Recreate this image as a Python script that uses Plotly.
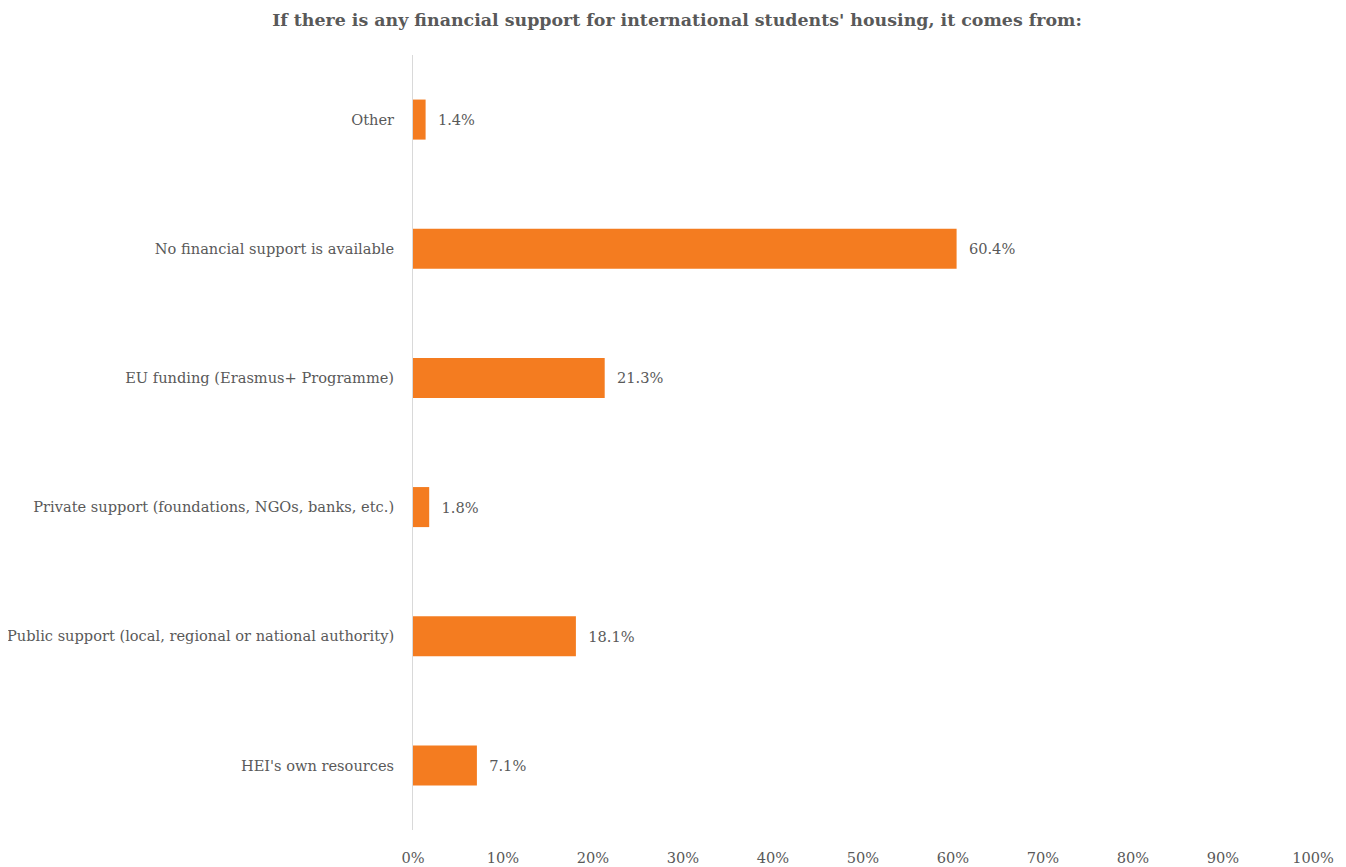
import plotly.graph_objects as go

categories = [
    "HEI's own resources",
    "Public support (local, regional or national authority)",
    "Private support (foundations, NGOs, banks, etc.)",
    "EU funding (Erasmus+ Programme)",
    "No financial support is available",
    "Other",
]
values = [7.1, 18.1, 1.8, 21.3, 60.4, 1.4]
tick_vals = [0, 10, 20, 30, 40, 50, 60, 70, 80, 90, 100]
tick_text = [f"{v}%" for v in tick_vals]

FONT = "DejaVu Serif"
GREY = "#595959"

fig = go.Figure(
    go.Bar(
        x=values,
        y=categories,
        orientation="h",
        marker=dict(color="#F47C20", line=dict(width=0)),
        width=0.31,
        text=[f"  {v:.1f}%" for v in values],
        textposition="outside",
        textfont=dict(family=FONT, size=14.6, color=GREY),
        cliponaxis=False,
        hoverinfo="skip",
    )
)

# page body has an 8px margin, so the figure is 8px smaller on each axis
fig.update_layout(
    width=1338,
    height=859,
    paper_bgcolor="white",
    plot_bgcolor="white",
    margin=dict(l=405, r=33, t=47, b=37, autoexpand=False),
    title=dict(
        text="<b>If there is any financial support for international students' housing, it comes from:</b>",
        x=0.5,
        xanchor="center",
        y=0.986,
        yanchor="middle",
        font=dict(family=FONT, size=17.4, color=GREY),
    ),
    showlegend=False,
    font=dict(family=FONT, color=GREY, size=14.6),
)

fig.update_xaxes(
    range=[0, 100],
    tickvals=tick_vals,
    ticktext=tick_text,
    showgrid=False,
    zeroline=False,
    showline=False,
    ticks="",
    automargin=False,
    ticklabelstandoff=17,
    tickfont=dict(family=FONT, size=14.6, color=GREY),
)
fig.update_yaxes(
    categoryorder="array",
    categoryarray=categories,
    showgrid=False,
    zeroline=False,
    showline=True,
    linecolor="#d9d9d9",
    linewidth=1,
    ticks="",
    automargin=False,
    ticklabelstandoff=15,
    tickfont=dict(family=FONT, size=14.6, color=GREY),
)

fig.write_html("out.html")
